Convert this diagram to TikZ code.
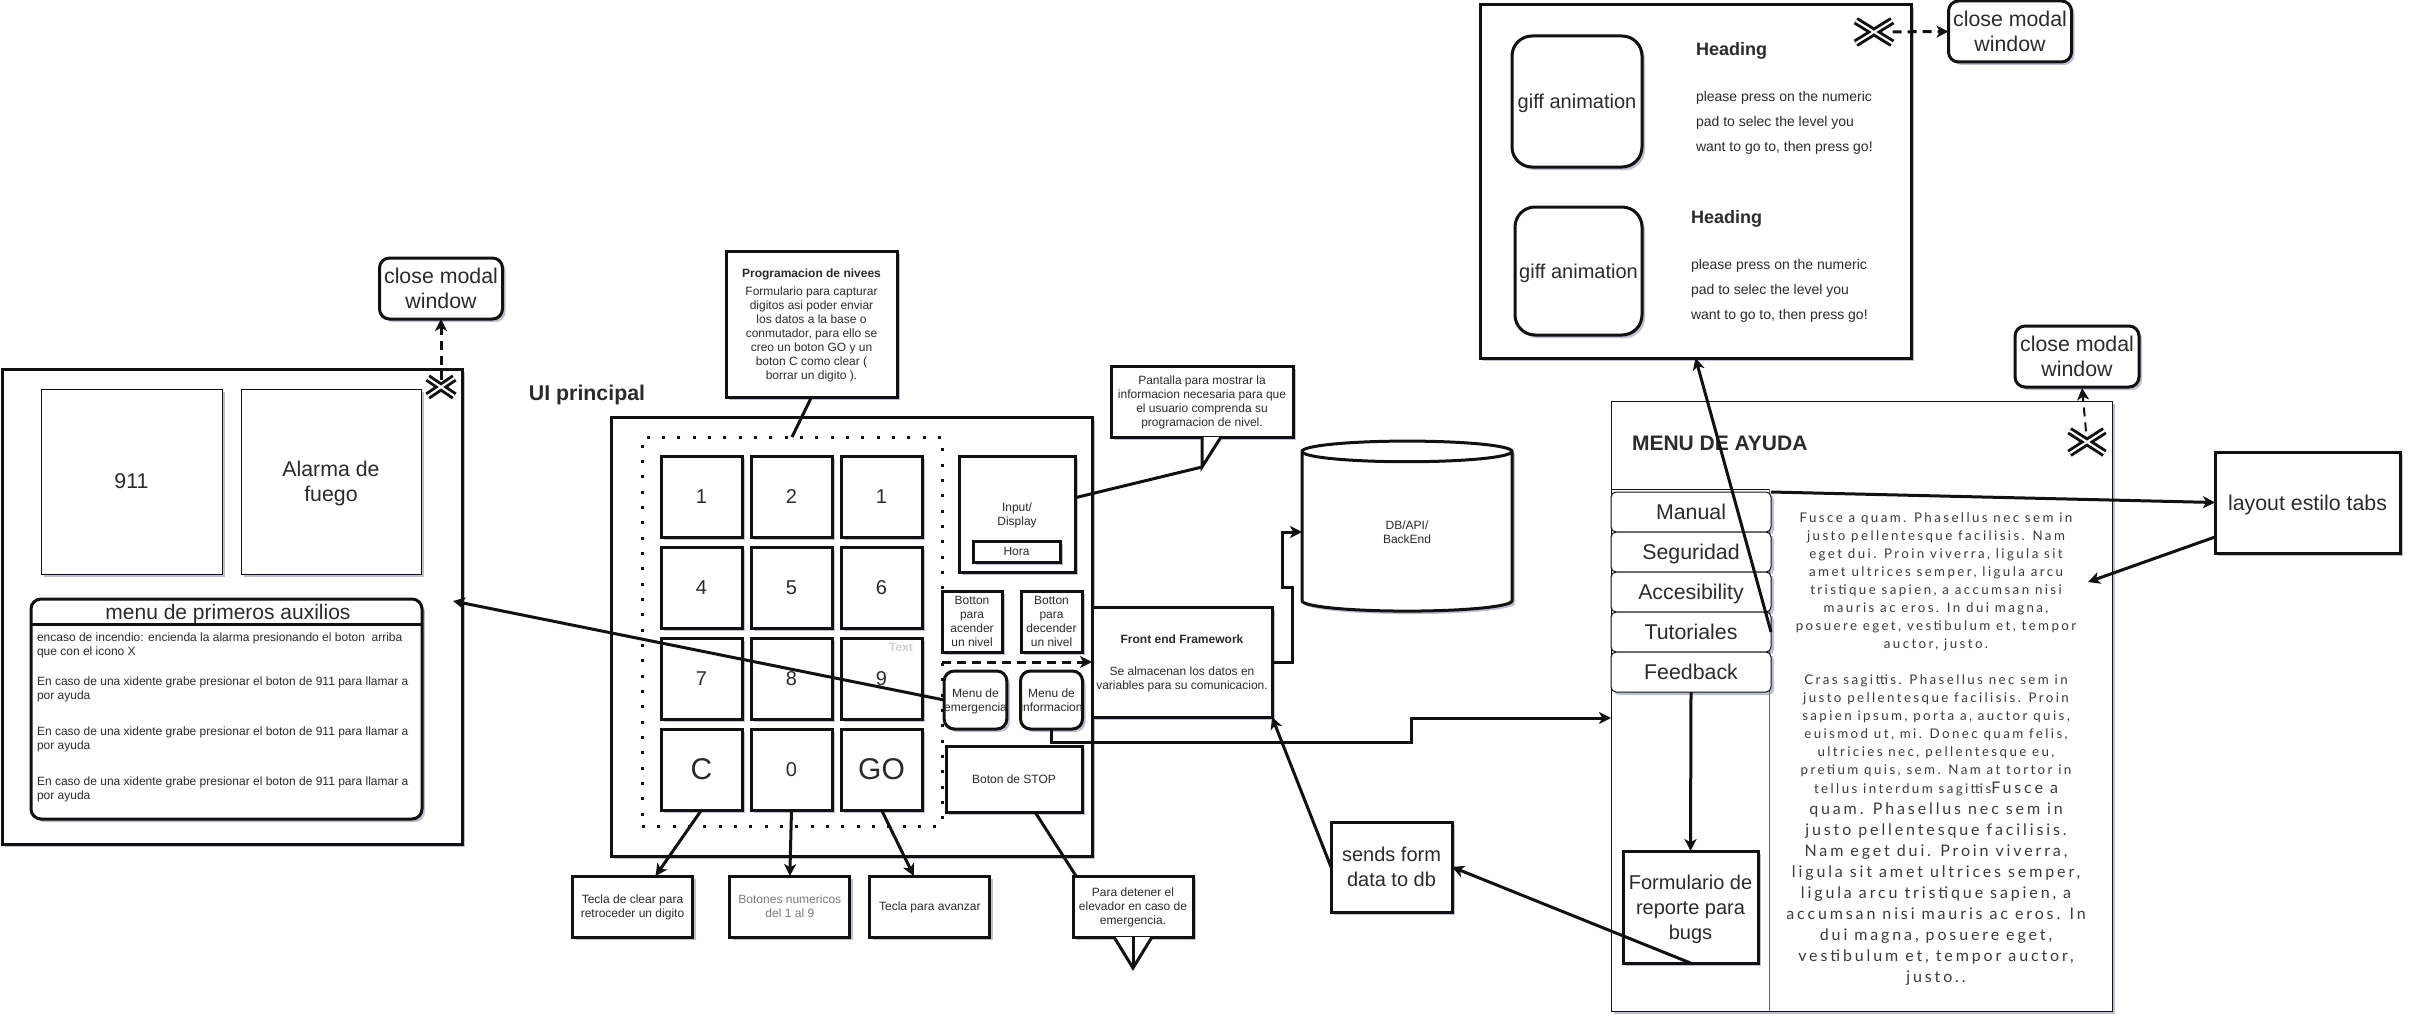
\documentclass[tikz,border=0pt]{standalone}
\usepackage{fontspec}
\setmainfont{Liberation Sans}
\newfontfamily\helpfont[LetterSpace=18]{Lato}
\usepackage{xcolor}
\definecolor{cLine}{HTML}{111111}
\definecolor{cShade}{HTML}{5A6488}
\definecolor{cText}{HTML}{2B2B2B}
\definecolor{cMuted}{HTML}{7A7A7A}
\definecolor{cHelp}{HTML}{3A3A3A}
\usetikzlibrary{positioning,arrows.meta,calc,shadows,shapes.geometric}
\newcommand{\fsS}{\fontsize{9}{10.5}\selectfont}
\newcommand{\fsP}{\fontsize{10.5}{18.75}\selectfont}
\newcommand{\fsH}{\fontsize{13.5}{16}\selectfont}
\newcommand{\fsM}{\fontsize{15}{18.75}\selectfont}
\newcommand{\fsB}{\fontsize{16}{18.75}\selectfont}
\newcommand{\fsL}{\fontsize{22.5}{26}\selectfont}
\tikzset{
  wh/.style 2 args={minimum width=#1*0.75pt,minimum height=#2*0.75pt},
  soft-shadow/.style={drop shadow={shadow xshift=2.25pt,shadow yshift=-2.25pt,fill=cShade,opacity=.4}},
  node-box/.style={draw=cLine,line width=2.25pt,fill=white,soft-shadow,outer sep=0pt,inner sep=0pt,
    align=center,text=cText,font=\fsS,text depth=0pt},
  node-thin/.style={node-box,line width=.75pt},
  node-round/.style={node-box,rounded corners=7.5pt},
  node-key/.style={node-box,wh={81}{81},font=\fsM},
  node-note/.style={node-box,wh={120}{61}},
  node-close/.style={node-round,wh={123}{61},font=\fsB},
  node-tab/.style={node-thin,wh={160}{40},rounded corners=3.75pt,font=\fsB},
  node-label/.style={align=left,inner sep=0pt,outer sep=0pt,text=cText},
  node-help/.style={align=center,inner sep=0pt,outer sep=0pt,text=cHelp},
  arrow/.style={-{Stealth[length=9pt,width=9pt,inset=2.5pt]},line width=2.25pt,draw=cLine},
  arrow-dash/.style={arrow,dash pattern=on 6.75pt off 4.5pt},
  link-line/.style={line width=2.25pt,draw=cLine},
  pad-dots/.style={draw=cLine,line width=2.25pt,dash pattern=on 2.25pt off 9.25pt},
  close-x/.pic={
    \draw[line width=6pt,draw=cLine] (-14,-9) -- (14,9) (-14,9) -- (14,-9);
    \draw[line width=1.6pt,draw=white] (-14,-9) -- (14,9) (-14,9) -- (14,-9);
  },
}
\begin{document}
\begin{tikzpicture}[x=0.75pt,y=-0.75pt,node distance=7.5pt and 6.75pt]
  \useasboundingbox (0,0) rectangle (2412,1024);
  % modal de primeros auxilios
  \node[node-box,wh={460}{475}]                    (modalAux) at (232,606.5) {};
  \node[node-thin,wh={181}{185},font=\fsB]         (btn911)   at (131.5,481.5) {911};
  \node[node-thin,wh={180}{185},font=\fsB]         (btnFire)  at (331,481.5) {Alarma de\\fuego};
  \node[node-round,wh={391}{220}]                  (menuAux)  at (226.5,709) {};
  \node[node-label,font=\fontsize{15.75}{18}\selectfont] (titleAux) at (228,614) {menu de primeros auxilios};
  \draw[link-line] (menuAux.west |- 0,624) -- (menuAux.east |- 0,624);
  \node[node-label,font=\fsS,anchor=north west]    (textAux)  at (37,633) {encaso de incendio: encienda la alarma presionando el boton\ \ arriba\\que con el icono X\\[12pt]
    En caso de una xidente grabe presionar el boton de 911 para llamar a\\por ayuda\\[16.5pt]
    En caso de una xidente grabe presionar el boton de 911 para llamar a\\por ayuda\\[16.5pt]
    En caso de una xidente grabe presionar el boton de 911 para llamar a\\por ayuda};
  \node[node-close]                                (closeAux) at (441,288.5) {close modal\\window};
  \coordinate (xAux) at (441,387);

  % pantalla principal
  \node[node-label,font=\bfseries\fsB]             (titleUi)  at (587,395) {UI principal};
  \node[node-box,wh={481}{439}]                    (mainUi)   at (851.5,636.5) {};
  \node[pad-dots,wh={300}{389},outer sep=0pt]      (pad)      at (792,631.5) {};
  \node[node-key]                  (k1) at (701.5,496.5) {1};
  \node[node-key,right=of k1]      (k2) {2};
  \node[node-key,right=of k2]      (k3) {1};
  \node[node-key,below=of k1]      (k4) {4};
  \node[node-key,right=of k4]      (k5) {5};
  \node[node-key,right=of k5]      (k6) {6};
  \node[node-key,below=of k4]      (k7) {7};
  \node[node-key,right=of k7]      (k8) {8};
  \node[node-key,right=of k8]      (k9) {9};
  \node[node-key,below=of k7,font=\fsL] (kC) {C};
  \node[node-key,right=of kC]      (k0) {0};
  \node[node-key,right=of k0,font=\fsL] (kGo) {GO};
  \node[node-label,font=\bfseries\fsS,text=black!18] (textKey) at (901,647) {Text};
  \node[node-box,wh={116}{116}]                    (input)    at (1017,514) {Input/\\Display};
  \node[node-box,wh={87}{21}]                      (hora)     at (1016.5,551.5) {Hora};
  \node[node-box,wh={60}{61}]                      (btnUp)    at (972,621.5) {Botton\\para\\acender\\un nivel};
  \node[node-box,wh={61}{61}]                      (btnDown)  at (1051.5,621.5) {Botton\\para\\decender\\un nivel};
  \node[node-round,wh={59}{58}]                    (menuEmg)  at (975.5,700) {Menu de\\emergencia};
  \node[node-round,wh={59}{58}]                    (menuInfo) at (1051.5,700) {Menu de\\informacion};
  \node[node-box,wh={136}{66}]                     (btnStop)  at (1014,779) {Boton de STOP};
  \node[node-box,wh={180}{110}]                    (front)    at (1182,662) {\textbf{Front end Framework}\\[14pt]Se almacenan los datos en\\variables para su comunicacion.};

  % notas
  \node[node-box,wh={171}{146}]                    (noteProg) at (811.5,324) {\textbf{Programacion de nivees}\\[3.5pt]Formulario para capturar\\digitos asi poder enviar\\los datos a la base o\\conmutador, para ello se\\creo un boton GO y un\\boton C como clear (\\borrar un digito ).};
  \node[node-box,wh={182}{71}]                     (noteScreen) at (1202,401.5) {Pantalla para mostrar la\\informacion necesaria para que\\el usuario comprenda su\\programacion de nivel.};
  \node[node-note]                                 (noteC)    at (632.5,906.5) {Tecla de clear para\\retroceder un digito};
  \node[node-note,right=28pt of noteC,text=cMuted] (noteNum)  {Botones numericos\\del 1 al 9};
  \node[node-note,right=15pt of noteNum]           (noteGo)   {Tecla para avanzar};
  \node[node-note]                                 (noteStop) at (1133,906.5) {Para detener el\\elevador en caso de\\emergencia.};
  \node[cylinder,shape border rotate=90,aspect=.43,draw=cLine,line width=2.25pt,fill=white,soft-shadow,
    wh={210}{170},outer sep=0pt,inner sep=0pt,align=center,text=cText,font=\fsS] (db) at (1407,532) {DB/API/\\BackEnd};
  \node[node-box,wh={121}{90},font=\fsM]           (sendForm) at (1391.5,867) {sends form\\data to db};

  % modal de ayuda animada
  \node[node-box,wh={431}{353}]                    (modalGif) at (1695.5,181.5) {};
  \node[node-round,rounded corners=15pt,wh={130}{131},font=\fsM] (gifOne) at (1577,101.5) {giff animation};
  \node[node-round,rounded corners=15pt,wh={127}{128},font=\fsM] (gifTwo) at (1578.5,271) {giff animation};
  \node[node-label,font=\bfseries\fsH,anchor=west] (headOne)  at (1696,51) {Heading};
  \node[node-label,font=\fsP,anchor=north west]    (textOne)  at (1696,91) {please press on the numeric\\pad to selec the level you\\want to go to, then press go!};
  \node[node-label,font=\bfseries\fsH,anchor=west] (headTwo)  at (1691,219) {Heading};
  \node[node-label,font=\fsP,anchor=north west]    (textTwo)  at (1691,259) {please press on the numeric\\pad to selec the level you\\want to go to, then press go!};
  \node[node-close]                                (closeGif) at (2010,31.5) {close modal\\window};
  \coordinate (xGif) at (1874,32);

  % menu de ayuda
  \node[node-thin,wh={501}{610}]                   (helpBox)  at (1861.5,706) {};
  \draw[line width=.75pt,draw=cLine] (helpBox.west |- 0,489) -- (1769,489);
  \draw[line width=.75pt,draw=black!60] (1769,489) -- (1769,1011);
  \node[node-label,font=\bfseries\fontsize{15.75}{18}\selectfont,anchor=west] (titleHelp) at (1632,443) {MENU DE AYUDA};
  \node[node-tab]                  (tabManual) at (1691,512) {Manual};
  \node[node-tab,below=0pt of tabManual] (tabSafe)   {Seguridad};
  \node[node-tab,below=0pt of tabSafe]   (tabAccess) {Accesibility};
  \node[node-tab,below=0pt of tabAccess] (tabTutor)  {Tutoriales};
  \node[node-tab,below=0pt of tabTutor]  (tabFeed)   {Feedback};
  \node[node-box,wh={135}{112},font=\fsM]          (formBug)  at (1690.5,907) {Formulario de\\reporte para\\bugs};
  \node[node-help,font=\helpfont\fontsize{10}{13.5}\selectfont] (textFusce) at (1936,582) {Fusce a quam. Phasellus nec sem in\\justo pellentesque facilisis. Nam\\eget dui. Proin viverra, ligula sit\\amet ultrices semper, ligula arcu\\tristique sapien, a accumsan nisi\\mauris ac eros. In dui magna,\\posuere eget, vestibulum et, tempor\\auctor, justo.};
  \node[node-help,font=\helpfont\fontsize{10}{13.5}\selectfont] (textCras) at (1936,726) {Cras sagittis. Phasellus nec sem in\\justo pellentesque facilisis. Proin\\sapien ipsum, porta a, auctor quis,\\euismod ut, mi. Donec quam felis,\\ultricies nec, pellentesque eu,\\pretium quis, sem. Nam at tortor in};
  \node[node-help,font=\helpfont\fontsize{12}{15.75}\selectfont] (textMore) at (1936,884) {{\fontsize{10}{13.5}\selectfont tellus interdum sagittis}Fusce a\\quam. Phasellus nec sem in\\justo pellentesque facilisis.\\Nam eget dui. Proin viverra,\\ligula sit amet ultrices semper,\\ligula arcu tristique sapien, a\\accumsan nisi mauris ac eros. In\\dui magna, posuere eget,\\vestibulum et, tempor auctor,\\justo..};
  \node[node-close,wh={124}{61}]                   (closeHelp) at (2077,356.5) {close modal\\window};
  \coordinate (xHelp) at (2087,442);
  \node[node-box,wh={185}{101},font=\fsB]          (layoutTabs) at (2307.5,502.5) {layout estilo tabs};

  % conectores
  \draw[arrow-dash,shorten <=5pt] (xAux) -- (closeAux.south);
  \draw[arrow-dash,shorten <=14pt] (xGif) -- (closeGif.west);
  \draw[arrow-dash,line width=1.5pt,shorten <=8pt] (xHelp) -- ($(closeHelp.south)+(5,1)$);
  \draw[link-line] (noteProg.south) -- (pad.north);
  \draw[fill=white,link-line] ($(noteScreen.south)+(19,0)$) -- ($(noteScreen.south)+(0,30)$) -- (noteScreen.south);
  \draw[link-line] ($(input.north east)!.36!(input.south east)$) -- ($(noteScreen.south)+(0,30)$);
  \draw[fill=white,link-line] ($(noteStop.south)+(-19,0)$) -- ($(noteStop.south)+(0,31)$) -- ($(noteStop.south)+(19,0)$);
  \draw[link-line] (noteStop.south) -- ($(noteStop.south)+(0,31)$);
  \draw[link-line] ($(btnStop.south)+(21,0)$) -- ($(noteStop.north west)+(3,0)$);
  \draw[arrow] (kC.south) -- ($(noteC.north)+(23,0)$);
  \draw[arrow] (k0.south) -- (noteNum.north);
  \draw[arrow] (kGo.south) -- ($(noteGo.north)+(-16,0)$);
  \draw[arrow-dash] (pad.east |- front.west) -- (front.west);
  \draw[arrow] (menuEmg.west) -- ($(menuAux.north east)+(31,2)$);
  \draw[arrow] (front.east) -- ++(20,0) -- ++(0,-75) -- ++(-10,0) |- (db.west);
  \draw[arrow] (menuInfo.south) -- ++(0,13) -| ($(helpBox.west)+(-200,12)$) -- ($(helpBox.west)+(0,12)$);
  \draw[arrow] (sendForm.west) -- (front.south east);
  \draw[arrow] (formBug.south) -- (sendForm.east);
  \draw[arrow] (tabFeed.south) -- (formBug.north);
  \draw[arrow] (tabTutor.east) -- (modalGif.south);
  \draw[arrow] (tabManual.north east) -- (layoutTabs.west);
  \draw[arrow] ($(layoutTabs.south west)+(0,-16)$) -- ($(helpBox.east)+(-24,-124)$);
  \pic[xscale=.95,yscale=1] at (xAux) {close-x};
  \pic[xscale=1.3,yscale=1.25] at (xGif) {close-x};
  \pic[xscale=1.25,yscale=1.25] at (xHelp) {close-x};
\end{tikzpicture}
\end{document}
